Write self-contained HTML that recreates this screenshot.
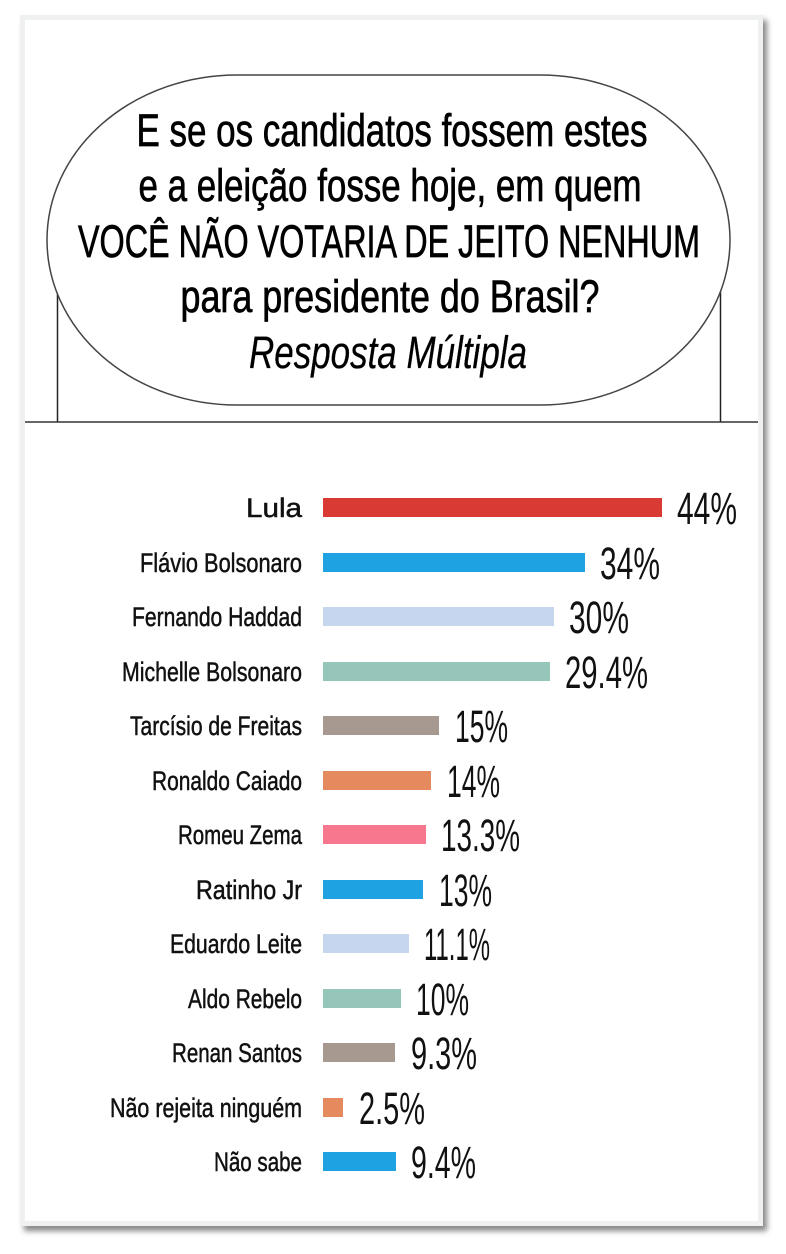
<!DOCTYPE html>
<html><head><meta charset="utf-8"><style>
html,body{margin:0;padding:0;background:#fff;}
svg{display:block;}
text{font-family:"Liberation Sans",sans-serif;}
</style></head><body>
<svg width="786" height="1254" viewBox="0 0 786 1254" xmlns="http://www.w3.org/2000/svg">
<defs>
<filter id="sh" x="-5%" y="-5%" width="110%" height="110%"><feDropShadow dx="4" dy="5" stdDeviation="3" flood-color="#555" flood-opacity="0.7"/></filter>
</defs>
<rect x="20" y="15" width="743" height="1211" fill="#eef1f0" filter="url(#sh)"/>
<rect x="25" y="20" width="733" height="1201" fill="#fff"/>
<line x1="57.5" y1="290" x2="57.5" y2="422" stroke="#222" stroke-width="1.5"/>
<line x1="720.5" y1="290" x2="720.5" y2="422" stroke="#222" stroke-width="1.5"/>
<line x1="25" y1="422" x2="758" y2="422" stroke="#333" stroke-width="1.5"/>
<rect x="47" y="75" width="683" height="330" rx="190" ry="165" fill="#fff" stroke="#444" stroke-width="1.5"/>
<g font-size="45" text-anchor="middle" fill="#000" stroke="#000" stroke-width="0.7">
<text x="392" y="146" textLength="511" lengthAdjust="spacingAndGlyphs">E se os candidatos fossem estes</text>
<text x="390" y="201" textLength="503" lengthAdjust="spacingAndGlyphs">e a eleição fosse hoje, em quem</text>
<text x="389" y="257" textLength="622" lengthAdjust="spacingAndGlyphs">VOCÊ NÃO VOTARIA DE JEITO NENHUM</text>
<text x="390" y="312" textLength="419" lengthAdjust="spacingAndGlyphs">para presidente do Brasil?</text>
<text x="388" y="368" font-style="italic" stroke-width="0.3" textLength="278" lengthAdjust="spacingAndGlyphs">Resposta Múltipla</text>
</g>
<g font-size="27" text-anchor="end" fill="#111" stroke="#111" stroke-width="0.5">
<text x="302" y="517" textLength="56" lengthAdjust="spacingAndGlyphs">Lula</text>
<text x="302" y="572" textLength="162" lengthAdjust="spacingAndGlyphs">Flávio Bolsonaro</text>
<text x="302" y="626" textLength="170" lengthAdjust="spacingAndGlyphs">Fernando Haddad</text>
<text x="302" y="681" textLength="180" lengthAdjust="spacingAndGlyphs">Michelle Bolsonaro</text>
<text x="302" y="735" textLength="172" lengthAdjust="spacingAndGlyphs">Tarcísio de Freitas</text>
<text x="302" y="790" textLength="150" lengthAdjust="spacingAndGlyphs">Ronaldo Caiado</text>
<text x="302" y="844" textLength="124" lengthAdjust="spacingAndGlyphs">Romeu Zema</text>
<text x="302" y="899" textLength="106" lengthAdjust="spacingAndGlyphs">Ratinho Jr</text>
<text x="302" y="953" textLength="132" lengthAdjust="spacingAndGlyphs">Eduardo Leite</text>
<text x="302" y="1008" textLength="114" lengthAdjust="spacingAndGlyphs">Aldo Rebelo</text>
<text x="302" y="1062" textLength="130" lengthAdjust="spacingAndGlyphs">Renan Santos</text>
<text x="302" y="1117" textLength="192" lengthAdjust="spacingAndGlyphs">Não rejeita ninguém</text>
<text x="302" y="1171" textLength="88" lengthAdjust="spacingAndGlyphs">Não sabe</text>
</g>
<g>
<rect x="323" y="498" width="339" height="19" fill="#d93b34"/>
<rect x="323" y="553" width="262" height="19" fill="#1ea2e2"/>
<rect x="323" y="607" width="231" height="19" fill="#c6d6ef"/>
<rect x="323" y="662" width="227" height="19" fill="#96c5b9"/>
<rect x="323" y="716" width="116" height="19" fill="#a89990"/>
<rect x="323" y="771" width="108" height="19" fill="#e58a5e"/>
<rect x="323" y="825" width="103" height="19" fill="#f7778f"/>
<rect x="323" y="880" width="100" height="19" fill="#1ea2e2"/>
<rect x="323" y="934" width="86" height="19" fill="#c6d6ef"/>
<rect x="323" y="989" width="78" height="19" fill="#96c5b9"/>
<rect x="323" y="1043" width="72" height="19" fill="#a89990"/>
<rect x="323" y="1098" width="20" height="19" fill="#e58a5e"/>
<rect x="323" y="1152" width="73" height="19" fill="#1ea2e2"/>
</g>
<g font-size="45" fill="#111">
<text x="677" y="524" textLength="60" lengthAdjust="spacingAndGlyphs">44%</text>
<text x="600" y="579" textLength="60" lengthAdjust="spacingAndGlyphs">34%</text>
<text x="569" y="633" textLength="60" lengthAdjust="spacingAndGlyphs">30%</text>
<text x="565" y="688" textLength="83" lengthAdjust="spacingAndGlyphs">29.4%</text>
<text x="455" y="742" textLength="53" lengthAdjust="spacingAndGlyphs">15%</text>
<text x="447" y="797" textLength="53" lengthAdjust="spacingAndGlyphs">14%</text>
<text x="441" y="851" textLength="79" lengthAdjust="spacingAndGlyphs">13.3%</text>
<text x="439" y="906" textLength="53" lengthAdjust="spacingAndGlyphs">13%</text>
<text x="424" y="960" textLength="66" lengthAdjust="spacingAndGlyphs">11.1%</text>
<text x="416" y="1015" textLength="53" lengthAdjust="spacingAndGlyphs">10%</text>
<text x="411" y="1069" textLength="66" lengthAdjust="spacingAndGlyphs">9.3%</text>
<text x="359" y="1124" textLength="66" lengthAdjust="spacingAndGlyphs">2.5%</text>
<text x="411" y="1178" textLength="65" lengthAdjust="spacingAndGlyphs">9.4%</text>
</g>
</svg>
</body></html>
